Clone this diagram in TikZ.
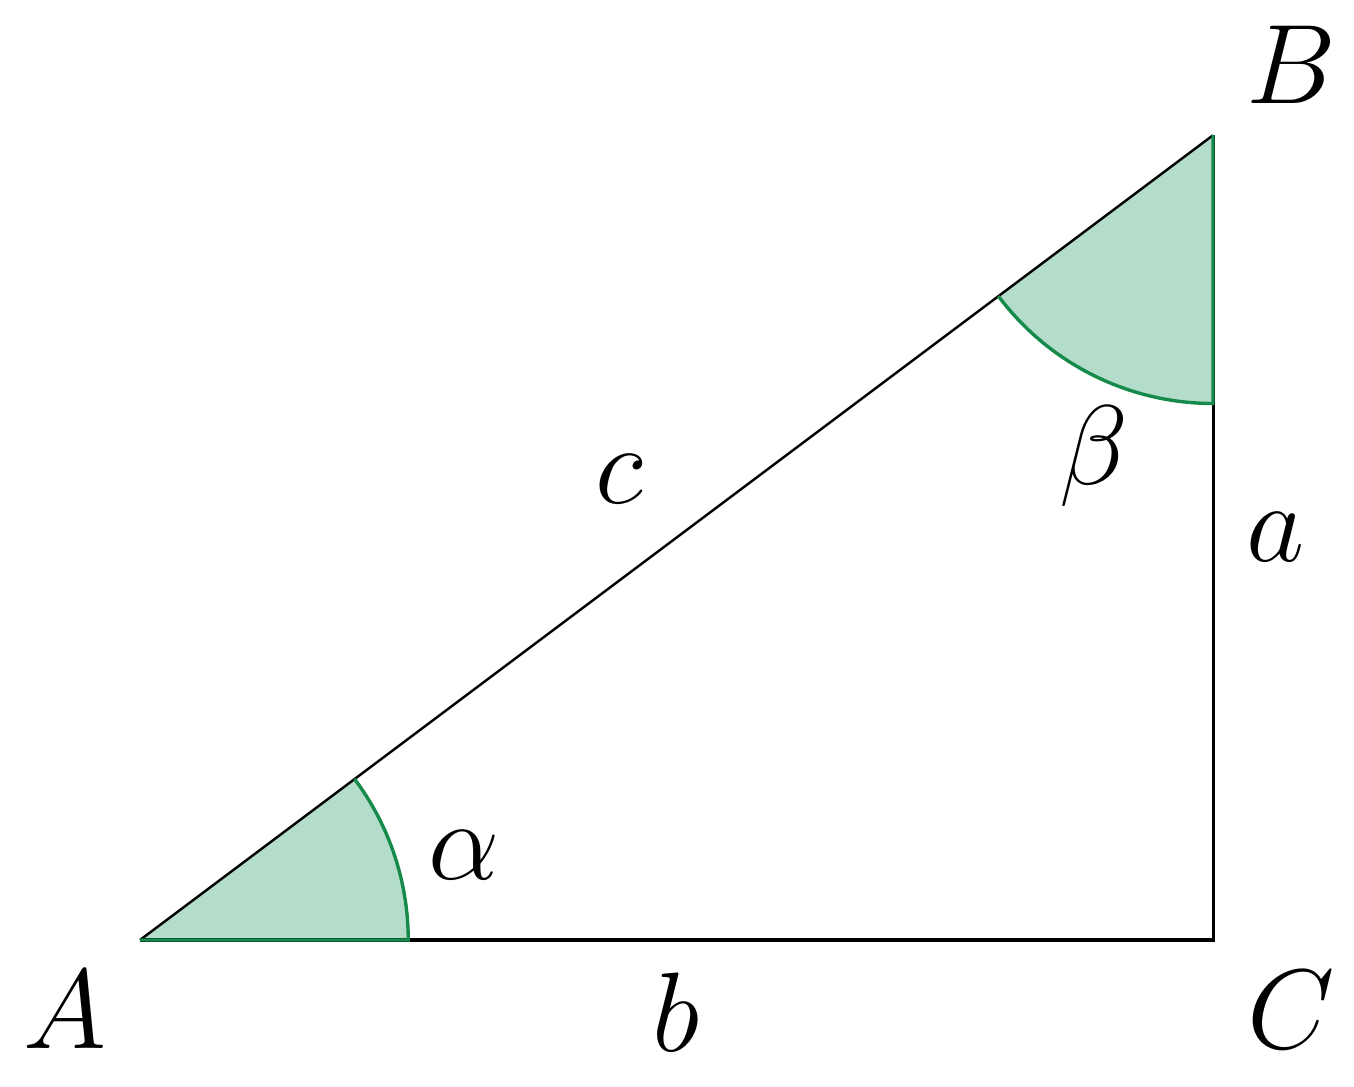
\documentclass[tikz,border=0pt]{standalone}
\begin{document}
\begin{tikzpicture}[
  leg/.style={line width=0.32pt, black},
  hyp/.style={line width=0.26pt, black},
  wedgeline/.style={line width=0.36pt, draw=wline},
  lbl/.style={inner sep=0pt, font=\fontsize{11.74}{14}\selectfont}
]
\definecolor{wfill}{RGB}{180,220,202}
\definecolor{wline}{RGB}{22,138,74}
\useasboundingbox (-0.5219,-0.5443) rectangle (4.5257,3.5042);
\coordinate (A) at (0,0);
\coordinate (C) at (4,0);
\coordinate (B) at (4,3);
\coordinate (A1) at (1,0);
\coordinate (B1) at (4,2);
% wedges
\fill[wfill] (A) -- (A1) arc[start angle=0, end angle=36.8699, radius=1] -- cycle;
\fill[wfill] (B) -- (B1) arc[start angle=270, end angle=216.8699, radius=1] -- cycle;
% triangle
\draw[leg] (A) -- (C) -- (B);
\draw[hyp] (A) -- (B);
% green strokes
\draw[wedgeline] (A) -- (A1) arc[start angle=0, end angle=36.8699, radius=1];
\draw[wedgeline] (B) -- (B1) arc[start angle=270, end angle=216.8699, radius=1];
% labels
\node[lbl] (lA) at (-0.2796,-0.2591) {$A$};
\node[lbl] (lB) at (4.2908,3.2619) {$B$};
\node[lbl] (lC) at (4.2908,-0.2591) {$C$};
\node[lbl] (lc) at (1.7856,1.7185) {$c$};
\node[lbl] (lb) at (1.9981,-0.2703) {$b$};
\node[lbl] (la) at (4.2349,1.5023) {$a$};
\node[lbl] (lal) at (1.2078,0.3169) {$\alpha$};
\node[lbl] (lbe) at (3.5560,1.8043) {$\beta$};
\end{tikzpicture}
\end{document}
